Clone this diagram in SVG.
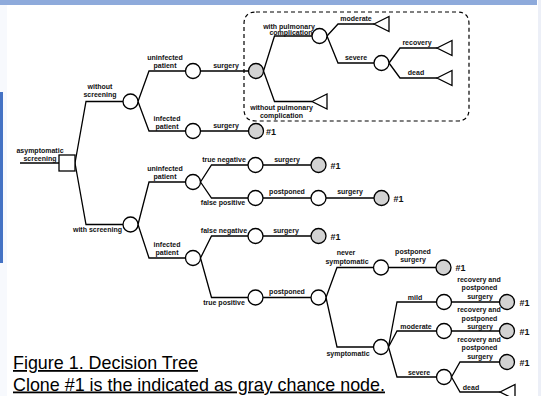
<svg xmlns="http://www.w3.org/2000/svg" width="541" height="396" viewBox="0 0 541 396">
<style>
.ln{stroke:#000;stroke-width:1.3;fill:none;stroke-linejoin:miter}
.c{fill:#fff;stroke:#000;stroke-width:1.3}
.g{fill:#d2d2d2;stroke:#000;stroke-width:1.3}
.tri{fill:#fff;stroke:#000;stroke-width:1.3;stroke-linejoin:miter}
.t{font-family:"Liberation Sans",Arial,sans-serif;font-weight:bold;font-size:7px;text-anchor:middle;fill:#111}
.h{font-family:"Liberation Sans",Arial,sans-serif;font-weight:bold;font-size:9px;fill:#111}
.cap{font-family:"Liberation Sans",Arial,sans-serif;font-size:17.9px;fill:#000;text-decoration:underline}
</style>
<rect x="0" y="0" width="541" height="396" fill="#fff"/>
<rect x="0" y="5" width="7" height="391" fill="#f7f9fd"/>
<rect x="538" y="0" width="3" height="396" fill="#eceff7"/>
<rect x="0" y="0" width="537" height="5" fill="#8eaadb"/>
<rect x="0" y="92" width="3" height="171" fill="#4472c4"/>

<path d="M256,12 H457 Q469,12 469,24 V109 Q469,121 457,121 H256 Q244,121 244,109 V24 Q244,12 256,12 Z" fill="none" stroke="#000" stroke-width="1.2" stroke-dasharray="4,3"/>

<g id="connectors">
<path class="ln" d="M20,163 H59"/>
<path class="ln" d="M75,163 L86,101.5 H123 M75,163 L86,224.5 H123"/>
<path class="ln" d="M138,101.5 L149,71 H185.5 M138,101.5 L149,131 H185.5"/>
<path class="ln" d="M200.5,71 H248.5 M200.5,131 H248.5"/>
<path class="ln" d="M263.5,71 L274.5,36 H312 M263.5,71 L274.5,101.5 H312"/>
<path class="ln" d="M327,36 L338,24 H374 M327,36 L338,63 H374"/>
<path class="ln" d="M389,63 L400,48 H437 M389,63 L400,78 H437"/>
<path class="ln" d="M138,224.5 L149,182 H185.5 M138,224.5 L149,258 H185.5"/>
<path class="ln" d="M200.5,182 L211.5,165 H248 M200.5,182 L211.5,198 H248"/>
<path class="ln" d="M263,165 H311 M263,198 H311 M326,198 H374"/>
<path class="ln" d="M200.5,258 L211.5,236 H248 M200.5,258 L211.5,297.5 H248"/>
<path class="ln" d="M263,236 H311 M263,297.5 H311"/>
<path class="ln" d="M326,297.5 L337,267.5 H373.5 M326,297.5 L337,347 H373.5"/>
<path class="ln" d="M388.5,267.5 H436"/>
<path class="ln" d="M388.5,347 L397,302 H436.5 M388.5,347 L397,331 H436.5 M388.5,347 L397,377 H436.5"/>
<path class="ln" d="M451.5,302 H499.5 M451.5,331 H499.5"/>
<path class="ln" d="M451.5,377 L460,362 H499.5 M451.5,377 L460,392 H500"/>
<g id="labels">
<text class="t" x="40" y="152.5">asymptomatic</text>
<text class="t" x="40" y="160.5">screening</text>
<text class="t" x="100" y="89">without</text>
<text class="t" x="100" y="97">screening</text>
<text class="t" x="165" y="60">uninfected</text>
<text class="t" x="165" y="68">patient</text>
<text class="t" x="167" y="121">infected</text>
<text class="t" x="167" y="129">patient</text>
<text class="t" x="226" y="68">surgery</text>
<text class="t" x="226" y="128">surgery</text>
<text class="t" x="289" y="29">with pulmonary</text>
<text class="t" x="291" y="34.5">complication</text>
<text class="t" x="281.5" y="110">without pulmonary</text>
<text class="t" x="281.5" y="118">complication</text>
<text class="t" x="356" y="21">moderate</text>
<text class="t" x="356" y="60">severe</text>
<text class="t" x="417" y="45">recovery</text>
<text class="t" x="416" y="75">dead</text>
<text class="t" x="97.5" y="232">with screening</text>
<text class="t" x="165" y="171">uninfected</text>
<text class="t" x="165" y="179">patient</text>
<text class="t" x="167" y="247">infected</text>
<text class="t" x="167" y="255">patient</text>
<text class="t" x="224" y="161.5">true negative</text>
<text class="t" x="223" y="205">false positive</text>
<text class="t" x="224" y="232.5">false negative</text>
<text class="t" x="224" y="305">true positive</text>
<text class="t" x="287" y="162">surgery</text>
<text class="t" x="287" y="193.5">postponed</text>
<text class="t" x="350" y="194">surgery</text>
<text class="t" x="286" y="232.5">surgery</text>
<text class="t" x="287" y="294">postponed</text>
<text class="t" x="346" y="255">never</text>
<text class="t" x="347" y="264">symptomatic</text>
<text class="t" x="413" y="254">postponed</text>
<text class="t" x="413" y="262">surgery</text>
<text class="t" x="348" y="356">symptomatic</text>
<text class="t" x="415" y="299.5">mild</text>
<text class="t" x="416" y="329">moderate</text>
<text class="t" x="419" y="375">severe</text>
<text class="t" x="479" y="281.5">recovery and</text>
<text class="t" x="479.5" y="290">postponed</text>
<text class="t" x="480" y="298.5">surgery</text>
<text class="t" x="479" y="312">recovery and</text>
<text class="t" x="479.5" y="320.5">postponed</text>
<text class="t" x="480" y="329">surgery</text>
<text class="t" x="479" y="342">recovery and</text>
<text class="t" x="479.5" y="350">postponed</text>
<text class="t" x="480" y="358.5">surgery</text>
<text class="t" x="471" y="389.5">dead</text>
</g>
</g>

<g id="n-root"><rect x="59" y="155" width="16" height="16" class="c"/></g>
<g id="n-without-screening"><circle cx="130.5" cy="101.5" r="7.5" class="c"/></g>
<g id="n-with-screening"><circle cx="130.5" cy="224.5" r="7.5" class="c"/></g>
<g id="n-ws-uninfected"><circle cx="193" cy="71" r="7.5" class="c"/></g>
<g id="n-ws-infected"><circle cx="193" cy="131" r="7.5" class="c"/></g>
<g id="n-clone-surgery"><circle cx="256" cy="71" r="7.5" class="g"/></g>
<g id="n-ws-inf-surgery"><circle cx="256" cy="131" r="7.5" class="g"/><text class="h" x="266" y="134.5">#1</text></g>
<g id="n-with-pulm"><circle cx="319.5" cy="36" r="7.5" class="c"/></g>
<g id="n-without-pulm"><polygon class="tri" points="312,101.5 327,94 327,109"/></g>
<g id="n-moderate"><polygon class="tri" points="374,24 389,16.5 389,31.5"/></g>
<g id="n-severe"><circle cx="381.5" cy="63" r="7.5" class="c"/></g>
<g id="n-recovery"><polygon class="tri" points="437,48 452,40.5 452,55.5"/></g>
<g id="n-dead"><polygon class="tri" points="437,78 452,70.5 452,85.5"/></g>
<g id="n-s-uninfected"><circle cx="193" cy="182" r="7.5" class="c"/></g>
<g id="n-s-infected"><circle cx="193" cy="258" r="7.5" class="c"/></g>
<g id="n-true-neg"><circle cx="255.5" cy="165" r="7.5" class="c"/></g>
<g id="n-false-pos"><circle cx="255.5" cy="198" r="7.5" class="c"/></g>
<g id="n-tn-surgery"><circle cx="318.5" cy="165" r="7.5" class="g"/><text class="h" x="330.5" y="168.5">#1</text></g>
<g id="n-fp-postponed"><circle cx="318.5" cy="198" r="7.5" class="c"/></g>
<g id="n-fp-surgery"><circle cx="381.5" cy="198" r="7.5" class="g"/><text class="h" x="393.5" y="201.5">#1</text></g>
<g id="n-false-neg"><circle cx="255.5" cy="236" r="7.5" class="c"/></g>
<g id="n-true-pos"><circle cx="255.5" cy="297.5" r="7.5" class="c"/></g>
<g id="n-fn-surgery"><circle cx="318.5" cy="236" r="7.5" class="g"/><text class="h" x="330.5" y="239.5">#1</text></g>
<g id="n-tp-postponed"><circle cx="318.5" cy="297.5" r="7.5" class="c"/></g>
<g id="n-never-symp"><circle cx="381" cy="267.5" r="7.5" class="c"/></g>
<g id="n-ns-surgery"><circle cx="443.5" cy="267.5" r="7.5" class="g"/><text class="h" x="455.5" y="271">#1</text></g>
<g id="n-symptomatic"><circle cx="381" cy="347" r="7.5" class="c"/></g>
<g id="n-mild"><circle cx="444" cy="302" r="7.5" class="c"/></g>
<g id="n-s-moderate"><circle cx="444" cy="331" r="7.5" class="c"/></g>
<g id="n-s-severe"><circle cx="444" cy="377" r="7.5" class="c"/></g>
<g id="n-mild-rec"><circle cx="507" cy="302" r="7.5" class="g"/><text class="h" x="519.5" y="305.5">#1</text></g>
<g id="n-mod-rec"><circle cx="507" cy="331" r="7.5" class="g"/><text class="h" x="519.5" y="334.5">#1</text></g>
<g id="n-sev-rec"><circle cx="507" cy="362" r="7.5" class="g"/><text class="h" x="519.5" y="365.5">#1</text></g>
<g id="n-sev-dead"><polygon class="tri" points="500,392 515,384.5 515,399.5"/></g>

<g id="caption">
<text class="cap" x="13" y="369">Figure 1. Decision Tree</text>
<text class="cap" x="13" y="390.5">Clone #1 is the indicated as gray chance node.</text>
</g>
</svg>
